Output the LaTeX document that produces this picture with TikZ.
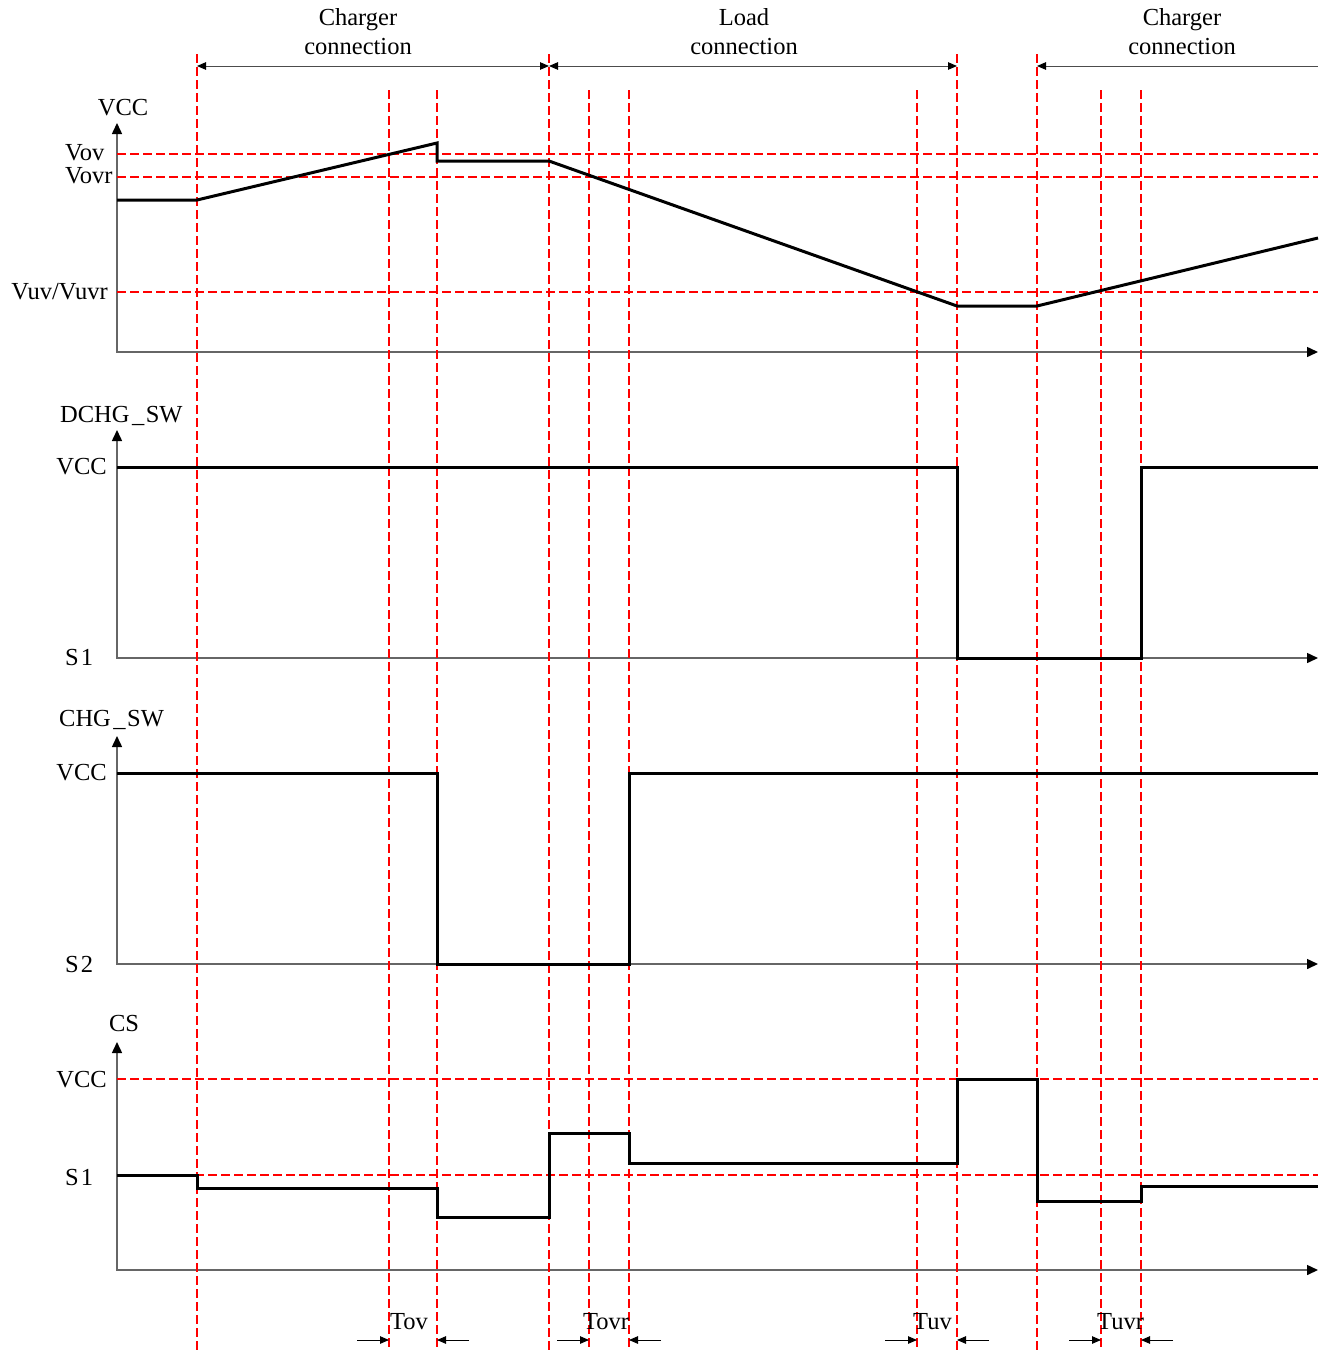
\documentclass[tikz,border=0pt]{standalone}
\usepackage{fontspec}
\setmainfont{Liberation Serif}
\usetikzlibrary{arrows.meta}
\begin{document}
\begin{tikzpicture}[x=1pt,y=-1pt,
  lbl/.style={font=\fontsize{24.5}{29}\selectfont,inner sep=0pt},
  sig/.style={line width=3pt,black},
  reddash/.style={red,line width=1.8pt,dash pattern=on 9pt off 4pt},
  axis/.style={black!60,line width=1.5pt,{Triangle[length=11pt,width=10pt,black]}-{Triangle[length=11pt,width=10pt,black]}},
  toparr/.style={black!70,line width=1pt},
  botarr/.style={black,line width=1pt,-{Triangle[length=9pt,width=7.5pt]}}]
\useasboundingbox (0,0) rectangle (1323,1350);

% ---------- axes ----------
\draw[axis] (117,123) -- (117,352) -- (1318,352);
\draw[axis] (117,430) -- (117,658) -- (1318,658);
\draw[axis] (117,736) -- (117,964) -- (1318,964);
\draw[axis] (117,1042) -- (117,1270) -- (1318,1270);

% ---------- red dashed guides ----------
\foreach \y in {154,177,292,1079,1175}
  \draw[reddash] (117,\y) -- (1318,\y);
\foreach \x in {197,549,957,1037}
  \draw[reddash] (\x,54) -- (\x,1350);
\foreach \x in {389,437,589,629,917,1101,1141}
  \draw[reddash] (\x,90) -- (\x,1350);

% ---------- signals ----------
% VCC
\draw[sig] (117,200) -- (197,200) -- (437,143) -- (437,161) -- (549,161) -- (957,306) -- (1037,306) -- (1318,238);
% DCHG_SW
\draw[sig] (117,467) -- (957,467) -- (957,658) -- (1141,658) -- (1141,467) -- (1318,467);
% CHG_SW
\draw[sig] (117,773) -- (437,773) -- (437,964) -- (629,964) -- (629,773) -- (1318,773);
% CS
\draw[sig] (117,1175) -- (197,1175) -- (197,1188) -- (437,1188) -- (437,1217) -- (549,1217) -- (549,1133) -- (629,1133) -- (629,1163) -- (957,1163) -- (957,1079) -- (1037,1079) -- (1037,1201) -- (1141,1201) -- (1141,1186) -- (1318,1186);

% ---------- top interval arrows ----------
\coordinate (a0) at (197,66);
\coordinate (a1) at (549,66);
\coordinate (a2) at (957,66);
\coordinate (a3) at (1037,66);
\coordinate (a4) at (1318,66);
\draw[toparr,{Triangle[length=9pt,width=7.5pt,black]}-{Triangle[length=9pt,width=7.5pt,black]}] (a0) -- (a1);
\draw[toparr,{Triangle[length=9pt,width=7.5pt,black]}-{Triangle[length=9pt,width=7.5pt,black]}] (a1) -- (a2);
\draw[toparr,{Triangle[length=9pt,width=7.5pt,black]}-] (a3) -- (a4);
\node[lbl,align=center] (t1) at (358,31.5) {Charger\\connection};
\node[lbl,align=center] (t2) at (744,31.5) {Load\\connection};
\node[lbl,align=center] (t3) at (1182,31.5) {Charger\\connection};

% ---------- left labels ----------
\node[lbl,anchor=base] (v0) at (123,115) {VCC};
\node[lbl,anchor=base west] (vov) at (65,160) {Vov};
\node[lbl,anchor=base west] (vovr) at (65,183) {Vovr};
\node[lbl,anchor=base east] (vuv) at (108,299) {Vuv/Vuvr};

\node[lbl,anchor=base west] (dchg) at (60,422) {DCHG\kern2.5pt\_\kern1.5pt SW};
\node[lbl,anchor=base east] (v1) at (107,474) {VCC};
\node[lbl,anchor=base west] (s1a) at (65,665) {S\kern2pt 1};

\node[lbl,anchor=base west] (chg) at (59,726) {CHG\kern2.5pt\_\kern1.5pt SW};
\node[lbl,anchor=base east] (v2) at (107,780) {VCC};
\node[lbl,anchor=base west] (s2) at (65,972) {S\kern2pt 2};

\node[lbl,anchor=base] (cs) at (124,1031) {CS};
\node[lbl,anchor=base east] (v3) at (107,1087) {VCC};
\node[lbl,anchor=base west] (s1b) at (65,1185) {S\kern2pt 1};

% ---------- bottom timing labels ----------
\node[lbl,anchor=base west] (tov) at (390,1329) {Tov};
\node[lbl,anchor=base west] (tovr) at (583,1329) {Tovr};
\node[lbl,anchor=base west] (tuv) at (913,1329) {Tuv};
\node[lbl,anchor=base west] (tuvr) at (1097,1329) {Tuvr};

\coordinate (b1s) at (357,1340); \coordinate (b1e) at (389,1340);
\coordinate (b2s) at (469,1340); \coordinate (b2e) at (437,1340);
\coordinate (b3s) at (557,1340); \coordinate (b3e) at (589,1340);
\coordinate (b4s) at (661,1340); \coordinate (b4e) at (629,1340);
\coordinate (b5s) at (885,1340); \coordinate (b5e) at (917,1340);
\coordinate (b6s) at (989,1340); \coordinate (b6e) at (957,1340);
\coordinate (b7s) at (1069,1340); \coordinate (b7e) at (1101,1340);
\coordinate (b8s) at (1173,1340); \coordinate (b8e) at (1141,1340);
\foreach \i in {1,...,8} \draw[botarr] (b\i s) -- (b\i e);
\end{tikzpicture}
\end{document}
